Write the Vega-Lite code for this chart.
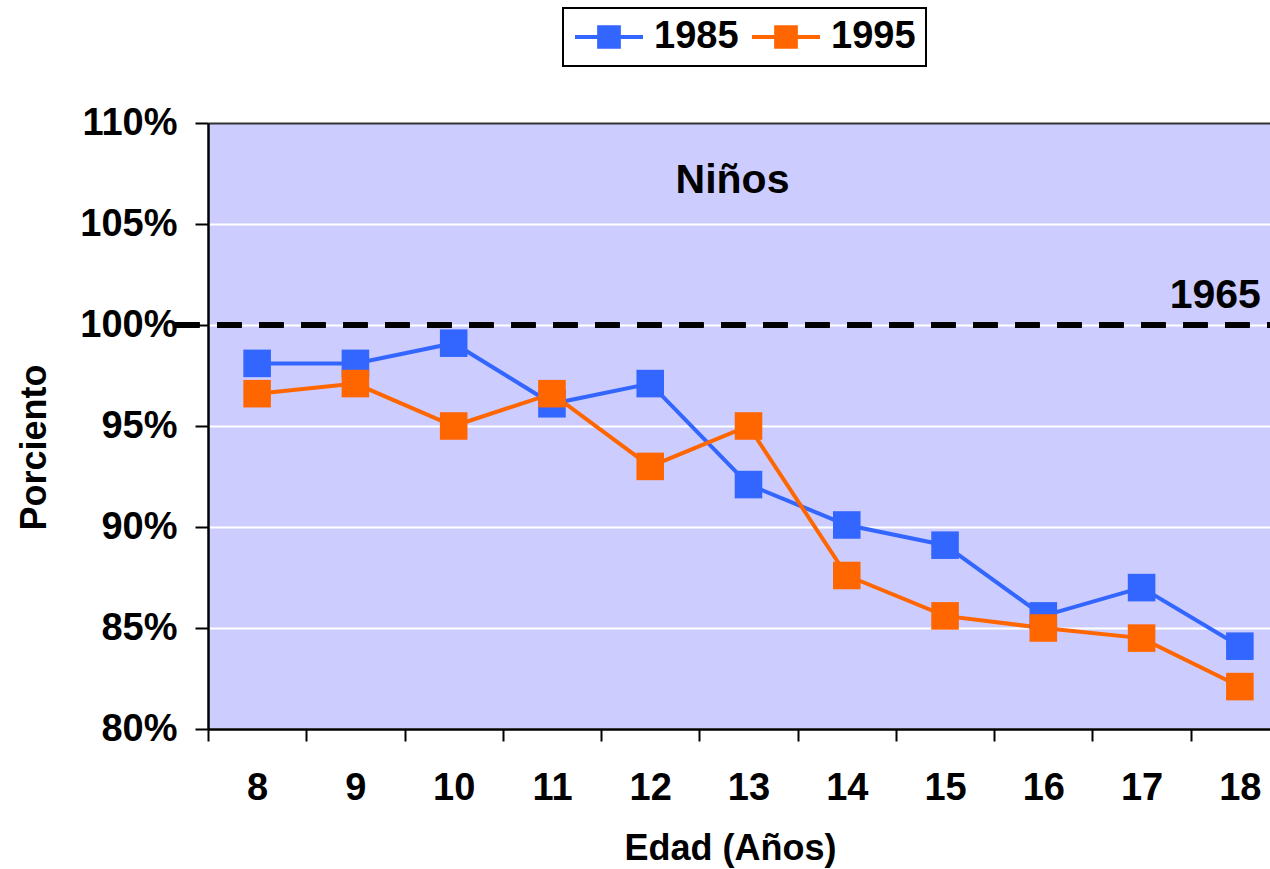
{
  "$schema": "https://vega.github.io/schema/vega-lite/v6.json",
  "autosize": "none",
  "width": 1081,
  "height": 606,
  "padding": {"left": 208, "top": 123, "right": 0, "bottom": 140},
  "background": "white",
  "config": {
    "view": {"fill": "#CCCCFF", "stroke": null},
    "font": "Liberation Sans",
    "axis": {
      "labelFont": "Liberation Sans",
      "labelFontWeight": "bold",
      "labelFontSize": 38,
      "labelColor": "black",
      "titleFont": "Liberation Sans",
      "titleFontWeight": "bold",
      "titleFontSize": 36,
      "titleColor": "black",
      "domainColor": "black",
      "domainWidth": 2.5,
      "tickColor": "black",
      "tickWidth": 2
    }
  },
  "data": {
    "values": [
      {"edad": "8", "anio": "1985", "pct": 0.981},
      {"edad": "9", "anio": "1985", "pct": 0.981},
      {"edad": "10", "anio": "1985", "pct": 0.991},
      {"edad": "11", "anio": "1985", "pct": 0.961},
      {"edad": "12", "anio": "1985", "pct": 0.971},
      {"edad": "13", "anio": "1985", "pct": 0.921},
      {"edad": "14", "anio": "1985", "pct": 0.901},
      {"edad": "15", "anio": "1985", "pct": 0.891},
      {"edad": "16", "anio": "1985", "pct": 0.856},
      {"edad": "17", "anio": "1985", "pct": 0.870},
      {"edad": "18", "anio": "1985", "pct": 0.841},
      {"edad": "8", "anio": "1995", "pct": 0.966},
      {"edad": "9", "anio": "1995", "pct": 0.971},
      {"edad": "10", "anio": "1995", "pct": 0.950},
      {"edad": "11", "anio": "1995", "pct": 0.966},
      {"edad": "12", "anio": "1995", "pct": 0.930},
      {"edad": "13", "anio": "1995", "pct": 0.950},
      {"edad": "14", "anio": "1995", "pct": 0.876},
      {"edad": "15", "anio": "1995", "pct": 0.856},
      {"edad": "16", "anio": "1995", "pct": 0.850},
      {"edad": "17", "anio": "1995", "pct": 0.845},
      {"edad": "18", "anio": "1995", "pct": 0.821}
    ]
  },
  "encoding": {
    "x": {
      "field": "edad",
      "type": "ordinal",
      "sort": ["8", "9", "10", "11", "12", "13", "14", "15", "16", "17", "18"],
      "scale": {"type": "band", "paddingInner": 0, "paddingOuter": 0},
      "axis": {
        "title": "Edad (Años)",
        "labelAngle": 0,
        "tickBand": "extent",
        "tickSize": 12,
        "labelPadding": 28,
        "titleX": 522,
        "titleY": 130,
        "titleBaseline": "alphabetic",
        "grid": false
      }
    },
    "y": {
      "field": "pct",
      "type": "quantitative",
      "scale": {"domain": [0.8, 1.1], "nice": false, "zero": false},
      "axis": {
        "title": "Porciento",
        "format": ".0%",
        "values": [0.8, 0.85, 0.9, 0.95, 1.0, 1.05, 1.1],
        "tickSize": 13,
        "labelPadding": 18,
        "grid": true,
        "gridColor": {"condition": {"test": "datum.value >= 1.099", "value": "#333333"}, "value": "white"},
        "gridWidth": 2,
        "gridOpacity": 1,
        "titleX": -163,
        "titleY": 324,
        "titleBaseline": "alphabetic"
      }
    },
    "color": {
      "field": "anio",
      "type": "nominal",
      "scale": {"domain": ["1985", "1995"], "range": ["#3366FF", "#FF6600"]},
      "legend": {
        "title": null,
        "orient": "none",
        "direction": "horizontal",
        "legendX": 355,
        "legendY": -115,
        "strokeColor": "black",
        "padding": 10,
        "clipHeight": 38,
        "symbolType": "M-1,0H1M-0.29,-0.29H0.29V0.29H-0.29Z",
        "symbolSize": 4624,
        "symbolStrokeWidth": 4,
        "symbolOpacity": 1,
        "labelFont": "Liberation Sans",
        "labelFontWeight": "bold",
        "labelFontSize": 38,
        "labelColor": "black",
        "labelOffset": 9,
        "columnPadding": 11,
        "encode": {
          "symbols": {
            "update": {
              "fill": {"scale": "color", "field": "value"},
              "stroke": {"scale": "color", "field": "value"},
              "strokeWidth": {"value": 4}
            }
          },
          "legend": {"update": {"strokeWidth": {"value": 2}}}
        }
      }
    }
  },
  "layer": [
    {
      "mark": {"type": "rule", "color": "black", "strokeWidth": 5, "strokeDash": [24, 18], "xOffset": -82, "x2Offset": 40},
      "encoding": {"x": {"datum": "8"}, "x2": {"datum": "18"}, "color": null, "y": {"datum": 1.0}}
    },
    {
      "mark": {"type": "line", "strokeWidth": 4}
    },
    {
      "mark": {"type": "point", "shape": "square", "filled": true, "size": 760, "opacity": 1}
    },
    {
      "data": {"values": [{"edad": "13", "pct": 1.0653, "label": "Niños"}]},
      "mark": {"type": "text", "font": "Liberation Sans", "fontWeight": "bold", "fontSize": 41, "align": "center", "baseline": "alphabetic", "dx": -16, "color": "black"},
      "encoding": {"text": {"field": "label"}, "color": null}
    },
    {
      "data": {"values": [{"edad": "18", "pct": 1.0084, "label": "1965"}]},
      "mark": {"type": "text", "font": "Liberation Sans", "fontWeight": "bold", "fontSize": 41, "align": "right", "baseline": "alphabetic", "dx": 21, "color": "black"},
      "encoding": {"text": {"field": "label"}, "color": null}
    }
  ]
}
